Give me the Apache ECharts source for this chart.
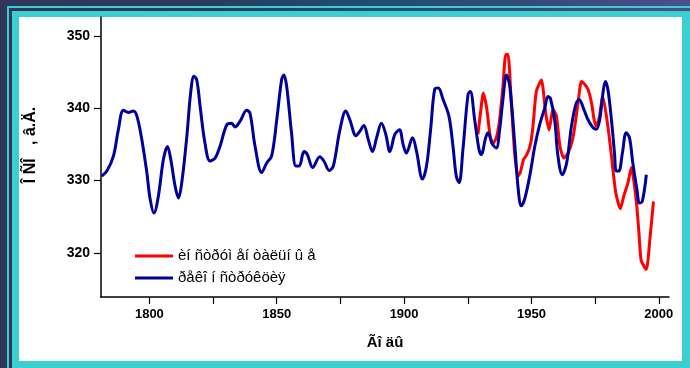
<!DOCTYPE html>
<html>
<head>
<meta charset="utf-8">
<script src="https://cdn.jsdelivr.net/npm/echarts@6/dist/echarts.min.js"></script>
<style>
  html, body { margin: 0; padding: 0; }
  body {
    width: 690px; height: 368px; overflow: hidden; position: relative;
    background: linear-gradient(90deg, #30365a 0%, #2c3a5e 30%, #1f4e74 55%, #3a4a7c 80%, #4b4f88 100%);
  }
  #frameLine {
    position: absolute; left: 7px; top: 6px; width: 700px; height: 380px;
    border-left: 2px solid #3ccfcf; border-top: 2px solid #3ccfcf;
  }
  #frameBand {
    position: absolute; left: 12px; top: 11px; width: 700px; height: 380px;
    background: #3ccfcf;
  }
  #panel {
    position: absolute; left: 19px; top: 17px; width: 663px; height: 344px;
    background: #ffffff;
  }
  #chart { position: absolute; left: 0; top: 0; width: 690px; height: 368px; }
</style>
</head>
<body>
<div id="frameLine"></div>
<div id="frameBand"></div>
<div id="panel"></div>
<div id="chart"></div>
<script>
// Series names (legend)
const seriesNames = ['èí ñòðóì åí òàëüí û å', 'ðåêî í ñòðóêöèÿ'];

// Instrumental record
const redYears = [1929.0, 1930.3, 1931.0, 1932.3, 1933.6, 1934.7, 1936.2, 1937.5, 1938.8, 1939.9,
  1940.8, 1942.1, 1943.4, 1944.7, 1945.6, 1946.9, 1948.2, 1949.6, 1950.6, 1951.9,
  1953.9, 1955.6, 1956.9, 1958.5, 1959.8, 1961.2, 1962.7, 1964.4, 1966.3, 1968.3,
  1969.6, 1970.9, 1972.2, 1973.6, 1974.6, 1975.4, 1976.5, 1978.0, 1980.0, 1981.4,
  1983.1, 1984.9, 1986.2, 1987.9, 1989.2, 1991.1, 1992.2, 1993.1, 1995.1, 1996.6, 1997.9];
const redValues = [336.4, 340.3, 342.1, 340.3, 336.6, 335.0, 335.9, 338.4, 343.0, 347.4,
  347.4, 340.7, 333.8, 330.6, 331.1, 332.9, 333.6, 335.0, 337.5, 342.3,
  343.9, 339.3, 337.0, 339.8, 338.9, 334.7, 333.1, 333.8, 335.9, 340.7,
  343.7, 343.3, 342.6, 340.7, 338.4, 337.5, 338.5, 341.6, 337.5, 333.4,
  328.3, 326.1, 327.8, 329.7, 331.8, 327.4, 322.8, 318.9, 317.7, 322.3, 327.1];

// Reconstruction
const blueYears = [1781.3, 1783.3, 1785.9, 1787.8, 1789.8, 1791.8, 1793.7, 1795.1, 1797.0, 1799.0,
  1800.3, 1801.8, 1803.5, 1805.5, 1807.1, 1808.4, 1810.1, 1811.4, 1812.7, 1814.7,
  1816.2, 1817.5, 1818.6, 1819.9, 1821.8, 1823.8, 1825.8, 1827.7, 1830.4, 1832.3,
  1833.6, 1835.6, 1838.2, 1839.5, 1841.5, 1844.1, 1846.0, 1848.0, 1850.0, 1851.9,
  1852.8, 1853.9, 1855.8, 1857.5, 1858.8, 1860.7, 1862.0, 1864.1, 1866.9, 1868.5,
  1870.6, 1872.2, 1874.8, 1877.1, 1878.7, 1881.1, 1882.6, 1884.2, 1885.9, 1887.6,
  1889.2, 1891.1, 1892.8, 1894.4, 1896.4, 1898.2, 1899.6, 1900.9, 1903.3, 1904.9,
  1907.2, 1908.8, 1910.4, 1912.0, 1913.4, 1915.3, 1917.6, 1919.2, 1920.5, 1921.6,
  1923.1, 1925.1, 1926.0, 1927.7, 1929.4, 1930.3, 1932.0, 1932.9, 1934.7, 1936.2,
  1937.5, 1938.8, 1940.2, 1941.5, 1943.4, 1944.7, 1946.0, 1947.3, 1949.3, 1951.3,
  1953.2, 1955.2, 1956.5, 1957.4, 1959.1, 1960.4, 1962.1, 1963.8, 1965.7, 1967.4,
  1968.7, 1970.6, 1972.2, 1974.2, 1975.5, 1976.8, 1978.0, 1979.0, 1980.0, 1981.4,
  1982.6, 1983.3, 1984.3, 1985.7, 1987.2, 1988.5, 1989.8, 1991.4, 1992.4, 1993.5, 1995.1];
const blueValues = [330.6, 331.3, 333.4, 337.0, 339.7, 339.4, 339.6, 338.9, 335.7, 331.1,
  327.4, 325.5, 327.8, 332.9, 334.7, 332.9, 329.2, 327.6, 329.7, 336.1,
  342.1, 344.4, 343.9, 340.3, 335.2, 332.7, 333.1, 334.7, 337.7, 337.9,
  337.4, 338.2, 339.7, 339.3, 334.7, 331.1, 332.4, 333.4, 338.4, 343.9,
  344.6, 343.0, 336.6, 332.0, 332.0, 334.0, 333.6, 331.8, 333.3, 332.7,
  331.4, 332.0, 337.0, 339.6, 338.4, 336.2, 336.8, 337.6, 335.7, 334.0,
  335.9, 337.9, 336.4, 334.0, 336.4, 337.0, 335.0, 333.8, 335.9, 334.0,
  330.2, 332.0, 337.0, 342.6, 342.8, 341.2, 338.9, 334.7, 330.6, 329.7,
  334.3, 341.9, 342.3, 338.4, 334.3, 333.6, 335.9, 336.6, 335.0, 334.5,
  337.0, 341.2, 344.6, 343.0, 335.2, 329.2, 326.5, 327.4, 330.6, 334.7,
  337.7, 340.0, 341.6, 341.4, 338.4, 333.4, 330.8, 332.4, 337.5, 340.5,
  341.2, 339.8, 338.4, 337.3, 337.1, 338.4, 341.9, 343.7, 342.6, 338.4,
  333.8, 331.3, 331.3, 333.8, 336.6, 335.9, 332.4, 328.8, 326.9, 327.1, 330.8];

// Axis ticks and labels
const xTickValues = [1800, 1825, 1850, 1875, 1900, 1925, 1950, 1975, 2000];
const xLabelValues = [1800, 1850, 1900, 1950, 2000];
const yTickValues = [320, 330, 340, 350];
const xAxisTitle = 'Ãî äû';
const yAxisTitle = 'Î ÑÎ   , â.Ä.';

const zip = (xs, ys) => xs.map((x, i) => [x, ys[i]]);

const chart = echarts.init(document.getElementById('chart'), null, { renderer: 'canvas' });
const fontFamily = '"Liberation Sans", Arial, sans-serif';

chart.setOption({
  backgroundColor: 'transparent',
  animation: false,
  grid: { left: 101, right: 21, top: 17, bottom: 71 },
  xAxis: {
    type: 'value',
    min: 1781, max: 2004,
    name: xAxisTitle,
    nameLocation: 'middle',
    nameGap: 38,
    nameTextStyle: { color: '#000', fontWeight: 'bold', fontSize: 15, fontFamily },
    axisLine: { show: true, lineStyle: { color: '#000', width: 1.5 } },
    axisTick: { show: true, inside: false, length: 7, lineStyle: { color: '#000', width: 1.2 }, customValues: xTickValues },
    axisLabel: {
      color: '#000', fontWeight: 'bold', fontSize: 13, fontFamily, margin: 11,
      customValues: xLabelValues,
      formatter: v => String(v)
    },
    splitLine: { show: false }
  },
  yAxis: {
    type: 'value',
    min: 313.9, max: 352.6,
    name: yAxisTitle,
    nameLocation: 'middle',
    nameRotate: 90,
    nameGap: 62,
    nameTextStyle: { color: '#000', fontWeight: 'bold', fontSize: 16, fontFamily, padding: [0, 0, 0, 24] },
    axisLine: { show: true, lineStyle: { color: '#000', width: 1.5 } },
    axisTick: { show: true, inside: false, length: 7, lineStyle: { color: '#000', width: 1.2 }, customValues: yTickValues },
    axisLabel: {
      color: '#000', fontWeight: 'bold', fontSize: 14, fontFamily, margin: 11,
      customValues: yTickValues,
      formatter: v => String(v)
    },
    splitLine: { show: false }
  },
  legend: {
    orient: 'vertical',
    left: 130, top: 243,
    icon: 'rect',
    itemWidth: 38, itemHeight: 3,
    itemGap: 6,
    textStyle: { color: '#000', fontSize: 15, fontFamily, lineHeight: 16 },
    data: seriesNames
  },
  series: [
    {
      name: seriesNames[0],
      type: 'line',
      data: zip(redYears, redValues),
      symbol: 'none',
      smooth: 0.2,
      color: '#ff0000',
      lineStyle: { color: '#ff0000', width: 3 },
      z: 2
    },
    {
      name: seriesNames[1],
      type: 'line',
      data: zip(blueYears, blueValues),
      symbol: 'none',
      smooth: 0.35,
      color: '#00009c',
      lineStyle: { color: '#00009c', width: 3 },
      z: 3
    }
  ]
});
</script>
</body>
</html>
